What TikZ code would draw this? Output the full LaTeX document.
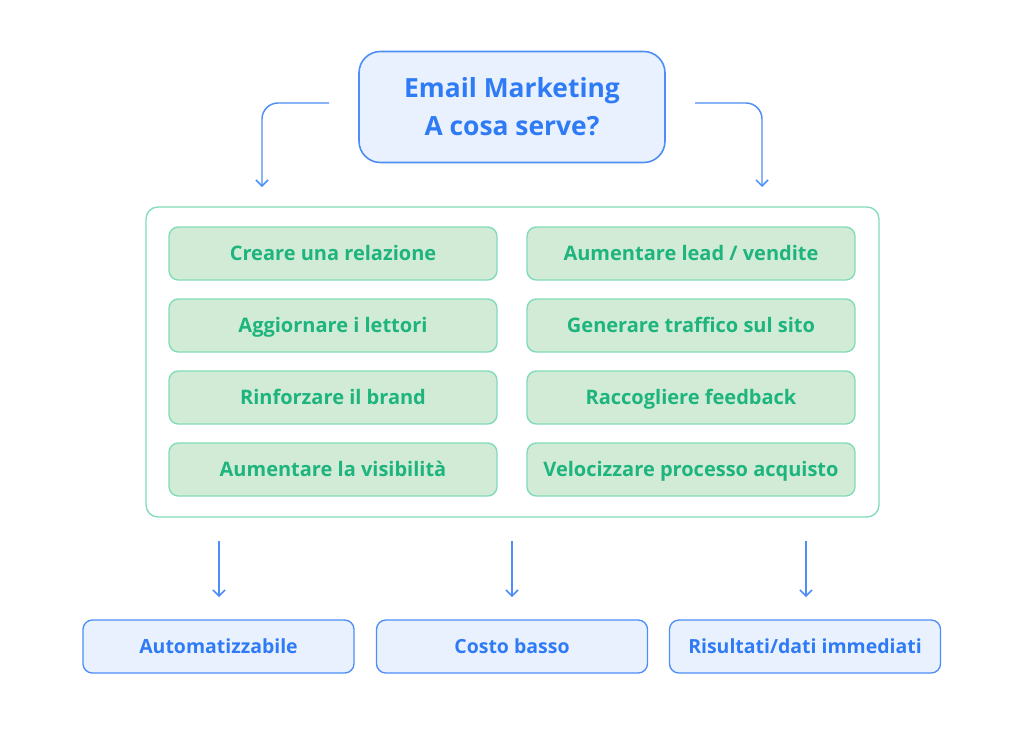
\documentclass[tikz,border=0pt]{standalone}
\usepackage{fontspec}
\setmainfont{Open Sans}
\usetikzlibrary{arrows.meta}
\definecolor{bluestroke}{HTML}{4E8EF7}
\definecolor{bluefill}{HTML}{EAF1FE}
\definecolor{bluetext}{HTML}{2F7BF5}
\definecolor{greenstroke}{HTML}{80DCB8}
\definecolor{greenfill}{HTML}{D2EBD6}
\definecolor{greentext}{HTML}{1DB47E}
\begin{document}
\begin{tikzpicture}[x=0.75pt,y=-0.75pt,
  titlebox/.style={draw=bluestroke,fill=bluefill,line width=1.2pt,rounded corners=16pt,
    minimum width=306*0.75pt,minimum height=111*0.75pt,align=center,
    text=bluetext,font=\bfseries\fontsize{19.8pt}{28.5pt}\selectfont},
  itembox/.style={draw=greenstroke,fill=greenfill,line width=1pt,rounded corners=7pt,
    minimum width=328*0.75pt,minimum height=53*0.75pt,text height=10.6pt,text depth=0pt,
    text=greentext,font=\bfseries\fontsize{15pt}{17pt}\selectfont},
  outbox/.style={draw=bluestroke,fill=bluefill,line width=1pt,rounded corners=7pt,
    minimum width=271*0.75pt,minimum height=53*0.75pt,text height=10.4pt,text depth=0pt,
    text=bluetext,font=\bfseries\fontsize{14.6pt}{17pt}\selectfont},
  conn/.style={draw=bluestroke,line width=1.1pt,-{Straight Barb[length=4.5pt,width=9pt,line width=1.1pt]}}
]
\useasboundingbox (0,0) rectangle (1024,740);
\fill[white] (0,0) rectangle (1024,740);

\node[titlebox] (title) at (512,107) {Email Marketing\\A cosa serve?};

\node[draw=greenstroke,line width=1pt,fill=white,rounded corners=9pt,
  minimum width=733*0.75pt,minimum height=310*0.75pt] (panel) at (512.5,362) {};

\node[itembox] (l1) at (333,253.5) {Creare una relazione};
\node[itembox] (l2) at (333,325.5) {Aggiornare i lettori};
\node[itembox] (l3) at (333,397.5) {Rinforzare il brand};
\node[itembox] (l4) at (333,469.5) {Aumentare la visibilità};
\node[itembox] (r1) at (691,253.5) {Aumentare lead / vendite};
\node[itembox] (r2) at (691,325.5) {Generare traffico sul sito};
\node[itembox] (r3) at (691,397.5) {Raccogliere feedback};
\node[itembox] (r4) at (691,469.5) {Velocizzare processo acquisto};

\node[outbox] (o1) at (218.5,646.5) {Automatizzabile};
\node[outbox] (o2) at (512,646.5) {Costo basso};
\node[outbox] (o3) at (805,646.5) {Risultati/dati immediati};

\coordinate (tl) at (329,103);
\coordinate (tr) at (695,103);
\coordinate (al) at (262,187);
\coordinate (ar) at (762,187);
\draw[conn,rounded corners=12pt] (tl) -| (al);
\draw[conn,rounded corners=12pt] (tr) -| (ar);

\coordinate (b1) at (219,541);
\coordinate (b2) at (512,541);
\coordinate (b3) at (806,541);
\coordinate (e1) at (219,597);
\coordinate (e2) at (512,597);
\coordinate (e3) at (806,597);
\draw[conn] (b1) -- (e1);
\draw[conn] (b2) -- (e2);
\draw[conn] (b3) -- (e3);
\end{tikzpicture}
\end{document}
